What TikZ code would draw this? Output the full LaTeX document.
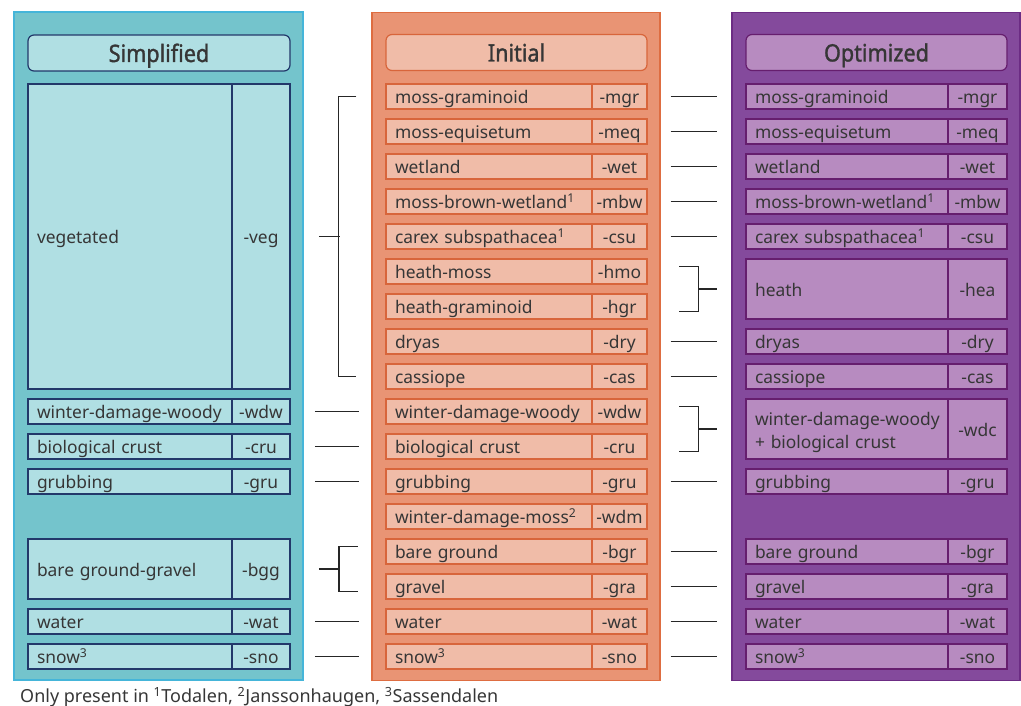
\documentclass[tikz,border=0pt]{standalone}
\usepackage{fontspec}
\setmainfont{Noto Sans}
\newfontfamily\titlefont{Noto Sans}[FakeStretch=0.9, AutoFakeBold=1.3]
\usepackage{xcolor}
\usetikzlibrary{positioning,calc}
\hyphenpenalty=10000
\exhyphenpenalty=10000
\hbadness=10000
\hfuzz=50pt

\definecolor{tealbg}{HTML}{74C4CC}
\definecolor{tealedge}{HTML}{45B5D9}
\definecolor{tealcell}{HTML}{B0DFE3}
\definecolor{navy}{HTML}{22386A}
\definecolor{orangebg}{HTML}{E99474}
\definecolor{orangeedge}{HTML}{DE6D41}
\definecolor{orangecell}{HTML}{F0BCA8}
\definecolor{orangeline}{HTML}{D8653B}
\definecolor{purplebg}{HTML}{844A9C}
\definecolor{purpleedge}{HTML}{6C2C84}
\definecolor{purplecell}{HTML}{B78BC0}
\definecolor{purpleline}{HTML}{661E6E}
\definecolor{ink}{HTML}{363636}

\begin{document}
\begin{tikzpicture}[x=1pt, y=-1pt, font=\fontsize{17.4}{23}\selectfont, text=ink]
  \tikzstyle{panel}=[rectangle, draw, line width=1.2pt, inner sep=0pt, minimum height=668pt]
  \tikzstyle{head}=[rectangle, rounded corners=6pt, line width=1.2pt, minimum width=261pt, minimum height=36pt, inner sep=0pt, text height=20pt, text depth=2pt, font=\titlefont\bfseries\fontsize{24}{28}\selectfont]
  \tikzstyle{cell}=[rectangle, line width=1.2pt, minimum height=25pt, inner ysep=0pt, text height=17pt, text depth=2.2pt]
  \tikzstyle{twoline}=[text height=, text depth=]
  \tikzstyle{sname}=[cell, draw=navy, fill=tealcell, line width=1.5pt, inner xsep=9pt, text width=186pt, align=left]
  \tikzstyle{scode}=[cell, draw=navy, fill=tealcell, line width=1.5pt, minimum width=58pt, inner xsep=0pt]
  \tikzstyle{iname}=[cell, draw=orangeline, fill=orangecell, inner xsep=9pt, text width=188pt, align=left]
  \tikzstyle{icode}=[cell, draw=orangeline, fill=orangecell, minimum width=55pt, inner xsep=0pt]
  \tikzstyle{oname}=[cell, draw=purpleline, fill=purplecell, inner xsep=9pt, text width=184pt, align=left]
  \tikzstyle{ocode}=[cell, draw=purpleline, fill=purplecell, minimum width=59pt, inner xsep=0pt]
  \tikzstyle{link}=[line width=1.6pt, draw=black!85]

  \useasboundingbox (0,0) rectangle (1021,706);

  % Paneles
  \node[panel, draw=tealedge, fill=tealbg, minimum width=289pt] (simp) at (158.5,346) {};
  \node[panel, draw=orangeedge, fill=orangebg, minimum width=288pt] (init) at (516,346.5) {};
  \node[panel, draw=purpleedge, fill=purplebg, minimum width=288pt] (opt) at (876,346.5) {};

  % Titulos
  \node[head, draw=navy, fill=tealcell, minimum width=262pt] (simp-head) at (159,53) {Simplified};
  \node[head, draw=orangeline, fill=orangecell] (init-head) at (516.5,52.5) {Initial};
  \node[head, draw=purpleline, fill=purplecell] (opt-head) at (876.5,52.5) {Optimized};

  % Simplified
  \node[sname, minimum height=305pt] (sw-vegn) at (130,236.5) {vegetated};
  \node[scode, minimum height=305pt] (sw-veg) at (261,236.5) {-veg};
  \node[sname] (sw-wdwn) at (130,411.5) {winter-damage-woody};
  \node[scode] (sw-wdw) at (261,411.5) {-wdw};
  \node[sname] (sw-crun) at (130,446.5) {biological crust};
  \node[scode] (sw-cru) at (261,446.5) {-cru};
  \node[sname] (sw-grun) at (130,481.5) {grubbing};
  \node[scode] (sw-gru) at (261,481.5) {-gru};
  \node[sname, minimum height=60pt] (sw-bggn) at (130,569) {bare ground-gravel};
  \node[scode, minimum height=60pt] (sw-bgg) at (261,569) {-bgg};
  \node[sname] (sw-watn) at (130,621.5) {water};
  \node[scode] (sw-wat) at (261,621.5) {-wat};
  \node[sname] (sw-snon) at (130,656.5) {snow\textsuperscript{3}};
  \node[scode] (sw-sno) at (261,656.5) {-sno};

  % Initial
  \node[iname] (in-mgrn) at (489,96.5) {moss-graminoid};
  \node[icode] (in-mgr) at (619.5,96.5) {-mgr};
  \node[iname] (in-meqn) at (489,131.5) {moss-equisetum};
  \node[icode] (in-meq) at (619.5,131.5) {-meq};
  \node[iname] (in-wetn) at (489,166.5) {wetland};
  \node[icode] (in-wet) at (619.5,166.5) {-wet};
  \node[iname] (in-mbwn) at (489,201.5) {moss-brown-wetland\textsuperscript{1}};
  \node[icode] (in-mbw) at (619.5,201.5) {-mbw};
  \node[iname] (in-csun) at (489,236.5) {carex subspathacea\textsuperscript{1}};
  \node[icode] (in-csu) at (619.5,236.5) {-csu};
  \node[iname] (in-hmon) at (489,271.5) {heath-moss};
  \node[icode] (in-hmo) at (619.5,271.5) {-hmo};
  \node[iname] (in-hgrn) at (489,306.5) {heath-graminoid};
  \node[icode] (in-hgr) at (619.5,306.5) {-hgr};
  \node[iname] (in-dryn) at (489,341.5) {dryas};
  \node[icode] (in-dry) at (619.5,341.5) {-dry};
  \node[iname] (in-casn) at (489,376.5) {cassiope};
  \node[icode] (in-cas) at (619.5,376.5) {-cas};
  \node[iname] (in-wdwn) at (489,411.5) {winter-damage-woody};
  \node[icode] (in-wdw) at (619.5,411.5) {-wdw};
  \node[iname] (in-crun) at (489,446.5) {biological crust};
  \node[icode] (in-cru) at (619.5,446.5) {-cru};
  \node[iname] (in-grun) at (489,481.5) {grubbing};
  \node[icode] (in-gru) at (619.5,481.5) {-gru};
  \node[iname] (in-wdmn) at (489,516.5) {winter-damage-moss\textsuperscript{2}};
  \node[icode] (in-wdm) at (619.5,516.5) {-wdm};
  \node[iname] (in-bgrn) at (489,551.5) {bare ground};
  \node[icode] (in-bgr) at (619.5,551.5) {-bgr};
  \node[iname] (in-gran) at (489,586.5) {gravel};
  \node[icode] (in-gra) at (619.5,586.5) {-gra};
  \node[iname] (in-watn) at (489,621.5) {water};
  \node[icode] (in-wat) at (619.5,621.5) {-wat};
  \node[iname] (in-snon) at (489,656.5) {snow\textsuperscript{3}};
  \node[icode] (in-sno) at (619.5,656.5) {-sno};

  % Optimized
  \node[oname] (op-mgr) at (847,96.5) {moss-graminoid};
  \node[ocode] (op-mgrc) at (977.5,96.5) {-mgr};
  \node[oname] (op-meq) at (847,131.5) {moss-equisetum};
  \node[ocode] (op-meqc) at (977.5,131.5) {-meq};
  \node[oname] (op-wet) at (847,166.5) {wetland};
  \node[ocode] (op-wetc) at (977.5,166.5) {-wet};
  \node[oname] (op-mbw) at (847,201.5) {moss-brown-wetland\textsuperscript{1}};
  \node[ocode] (op-mbwc) at (977.5,201.5) {-mbw};
  \node[oname] (op-csu) at (847,236.5) {carex subspathacea\textsuperscript{1}};
  \node[ocode] (op-csuc) at (977.5,236.5) {-csu};
  \node[oname, minimum height=60pt] (op-hea) at (847,289) {heath};
  \node[ocode, minimum height=60pt] (op-heac) at (977.5,289) {-hea};
  \node[oname] (op-dry) at (847,341.5) {dryas};
  \node[ocode] (op-dryc) at (977.5,341.5) {-dry};
  \node[oname] (op-cas) at (847,376.5) {cassiope};
  \node[ocode] (op-casc) at (977.5,376.5) {-cas};
  \node[oname, twoline, minimum height=60pt] (op-wdc) at (847,429) {\rule{0pt}{20pt}winter-damage-woody\\+ biological crust};
  \node[ocode, minimum height=60pt] (op-wdcc) at (977.5,429) {-wdc};
  \node[oname] (op-gru) at (847,481.5) {grubbing};
  \node[ocode] (op-gruc) at (977.5,481.5) {-gru};
  \node[oname] (op-bgr) at (847,551.5) {bare ground};
  \node[ocode] (op-bgrc) at (977.5,551.5) {-bgr};
  \node[oname] (op-gra) at (847,586.5) {gravel};
  \node[ocode] (op-grac) at (977.5,586.5) {-gra};
  \node[oname] (op-wat) at (847,621.5) {water};
  \node[ocode] (op-watc) at (977.5,621.5) {-wat};
  \node[oname] (op-sno) at (847,656.5) {snow\textsuperscript{3}};
  \node[ocode] (op-snoc) at (977.5,656.5) {-sno};

  % Conexiones Simplified - Initial
  \draw[link] ([shift={(-29,0)}]in-mgrn.west) -| ([shift={(-47,0)}]in-casn.west) -- ([shift={(-29,0)}]in-casn.west);
  \draw[link] ([shift={(28,0)}]sw-veg.east) -- ([shift={(49,0)}]sw-veg.east);
  \draw[link] ([shift={(24,0)}]sw-wdw.east) -- ([shift={(-26,0)}]in-wdwn.west);
  \draw[link] ([shift={(24,0)}]sw-cru.east) -- ([shift={(-26,0)}]in-crun.west);
  \draw[link] ([shift={(24,0)}]sw-gru.east) -- ([shift={(-26,0)}]in-grun.west);
  \draw[link] ([shift={(67,-22.5)}]sw-bgg.east) -- ++(-19,0) -- ++(0,45) -- ++(19,0);
  \draw[link] ([shift={(28,0)}]sw-bgg.east) -- ([shift={(48,0)}]sw-bgg.east);
  \draw[link] ([shift={(24,0)}]sw-wat.east) -- ([shift={(-26,0)}]in-watn.west);
  \draw[link] ([shift={(24,0)}]sw-sno.east) -- ([shift={(-26,0)}]in-snon.west);

  % Conexiones Initial - Optimized
  \draw[link] ([shift={(23,0)}]in-mgr.east) -- ([shift={(-28,0)}]op-mgr.west);
  \draw[link] ([shift={(23,0)}]in-meq.east) -- ([shift={(-28,0)}]op-meq.west);
  \draw[link] ([shift={(23,0)}]in-wet.east) -- ([shift={(-28,0)}]op-wet.west);
  \draw[link] ([shift={(23,0)}]in-mbw.east) -- ([shift={(-28,0)}]op-mbw.west);
  \draw[link] ([shift={(23,0)}]in-csu.east) -- ([shift={(-28,0)}]op-csu.west);
  \draw[link] ([shift={(-66,-22.5)}]op-hea.west) -- ++(19,0) -- ++(0,45) -- ++(-19,0);
  \draw[link] ([shift={(-47,0)}]op-hea.west) -- ([shift={(-28,0)}]op-hea.west);
  \draw[link] ([shift={(23,0)}]in-dry.east) -- ([shift={(-28,0)}]op-dry.west);
  \draw[link] ([shift={(23,0)}]in-cas.east) -- ([shift={(-28,0)}]op-cas.west);
  \draw[link] ([shift={(-66,-22.5)}]op-wdc.west) -- ++(19,0) -- ++(0,45) -- ++(-19,0);
  \draw[link] ([shift={(-47,0)}]op-wdc.west) -- ([shift={(-28,0)}]op-wdc.west);
  \draw[link] ([shift={(23,0)}]in-gru.east) -- ([shift={(-28,0)}]op-gru.west);
  \draw[link] ([shift={(23,0)}]in-bgr.east) -- ([shift={(-28,0)}]op-bgr.west);
  \draw[link] ([shift={(23,0)}]in-gra.east) -- ([shift={(-28,0)}]op-gra.west);
  \draw[link] ([shift={(23,0)}]in-wat.east) -- ([shift={(-28,0)}]op-wat.west);
  \draw[link] ([shift={(23,0)}]in-sno.east) -- ([shift={(-28,0)}]op-sno.west);

  % Nota
  \node[anchor=base west, inner sep=0pt, font=\fontsize{18}{21}\selectfont] (note) at (20,702.5)
    {Only present in \textsuperscript{1}Todalen, \textsuperscript{2}Janssonhaugen, \textsuperscript{3}Sassendalen};
\end{tikzpicture}
\end{document}
